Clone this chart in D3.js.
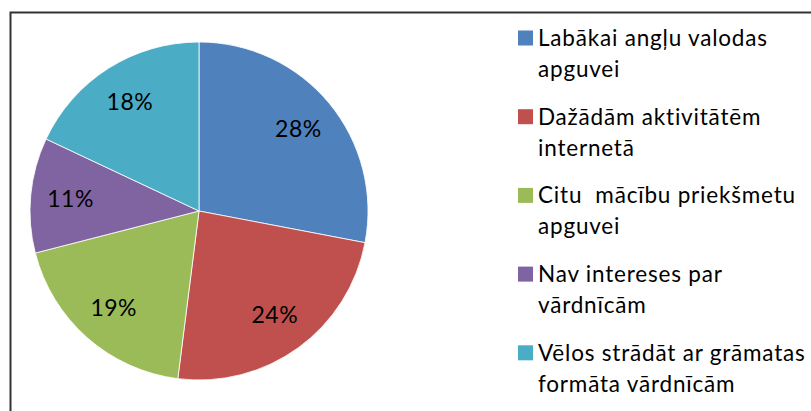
<!DOCTYPE html>
<html>
<head>
<meta charset="utf-8">
<script src="https://cdnjs.cloudflare.com/ajax/libs/d3/7.8.5/d3.min.js"></script>
<style>
  body { margin: 0; background: #fff; }
  text { font-family: Lato, "Open Sans", sans-serif; fill: #000; }
</style>
</head>
<body>
<script>
// pie data
var categories = [
  ['Labākai angļu valodas', 'apguvei'],
  ['Dažādām aktivitātēm', 'internetā'],
  ['Citu  mācību priekšmetu', 'apguvei'],
  ['Nav intereses par', 'vārdnīcām'],
  ['Vēlos strādāt ar grāmatas', 'formāta vārdnīcām']
];
var values = [28, 24, 19, 11, 18];
var colors = ['#4F81BD', '#C0504D', '#9BBB59', '#8064A2', '#4BACC6'];

var g = {};
g.screen = {'width': 811, 'height': 411};
g.pie = {'cx': 199, 'cy': 211, 'r': 169, 'labelR': 129};

var svg = d3.select('body').append('svg')
  .attr('width', g.screen.width)
  .attr('height', g.screen.height);

svg.append('rect')
  .attr('x', 10.5).attr('y', 12.5)
  .attr('width', 820).attr('height', 420)
  .attr('fill', '#fff')
  .attr('stroke', '#333')
  .attr('stroke-width', 2);

var data = values.map(function(v, i){ return {label: categories[i], value: v, color: colors[i]}; });

var pie = d3.pie().sort(null).value(function(d){ return d.value; });
var arc = d3.arc().innerRadius(0).outerRadius(g.pie.r);
var labelArc = d3.arc().innerRadius(g.pie.labelR).outerRadius(g.pie.labelR);

var pieG = svg.append('g')
  .attr('transform', 'translate(' + g.pie.cx + ',' + g.pie.cy + ')');

var slices = pieG.selectAll('g.slice').data(pie(data))
  .enter().append('g').attr('class', 'slice');

slices.append('path')
  .attr('d', arc)
  .attr('fill', function(d){ return d.data.color; })
  .attr('stroke', '#fff')
  .attr('stroke-width', 0.8);

slices.append('text')
  .attr('transform', function(d){ return 'translate(' + labelArc.centroid(d) + ')'; })
  .attr('text-anchor', 'middle')
  .attr('dy', '0.35em')
  .style('font-size', '23px')
  .style('letter-spacing', '0.5px')
  .text(function(d){ return d.data.value + '%'; });

// legend
var legend = svg.append('g').attr('transform', 'translate(518,38)');
var items = legend.selectAll('g.item').data(data)
  .enter().append('g')
  .attr('class', 'item')
  .attr('transform', function(d, i){ return 'translate(0,' + (i * 78.7) + ')'; });

items.append('rect')
  .attr('x', 0).attr('y', -7.5)
  .attr('width', 15).attr('height', 15)
  .attr('fill', function(d){ return d.color; });

items.append('text')
  .attr('x', 20)
  .style('font-size', '22.5px')
  .style('letter-spacing', '0.8px')
  .style('white-space', 'pre')
  .selectAll('tspan').data(function(d){ return d.label; })
  .enter().append('tspan')
  .attr('x', 20)
  .attr('y', function(d, i){ return i * 31; })
  .attr('dy', '0.35em')
  .text(function(d){ return d; });
</script>
</body>
</html>
